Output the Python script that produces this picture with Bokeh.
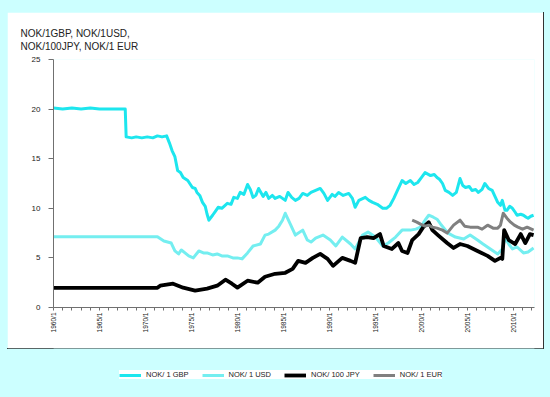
from bokeh.plotting import figure
from bokeh.models import Range1d, FixedTicker, Title, Legend, LegendItem
from bokeh.layouts import column
from bokeh.embed import file_html
from bokeh.resources import INLINE
import math

# ---------------- data ----------------
gbp_year = [1960.0, 1961.0, 1962.0, 1963.0, 1964.0, 1965.0, 1966.0, 1967.0, 1967.8,
            1967.9, 1968.5, 1969.0, 1969.6, 1970.2, 1970.8, 1971.3, 1971.8, 1972.3,
            1972.6, 1972.9, 1973.2, 1973.5, 1973.8, 1974.1, 1974.6, 1975.1, 1975.4,
            1975.6, 1975.9, 1976.2, 1976.5, 1976.7, 1976.9, 1977.3, 1977.6, 1977.9,
            1978.3, 1978.9, 1979.3, 1979.6, 1980.0, 1980.3, 1980.7, 1981.1, 1981.4,
            1981.7, 1982.0, 1982.3, 1982.8, 1983.1, 1983.4, 1983.8, 1984.1, 1984.6,
            1985.2, 1985.5, 1985.9, 1986.3, 1986.7, 1987.1, 1987.6, 1988.0, 1988.5,
            1989.0, 1989.4, 1989.8, 1990.3, 1990.6, 1991.0, 1991.5, 1992.1, 1992.5,
            1992.8, 1993.2, 1993.9, 1994.3, 1994.7, 1995.2, 1995.8, 1996.2, 1996.6,
            1997.0, 1997.4, 1997.9, 1998.3, 1998.8, 1999.2, 1999.6, 2000.0, 2000.4,
            2001.0, 2001.4, 2001.7, 2002.0, 2002.3, 2002.6, 2003.0, 2003.4, 2003.8,
            2004.2, 2004.5, 2004.8, 2005.2, 2005.5, 2005.9, 2006.2, 2006.6, 2006.9,
            2007.3, 2007.7, 2008.0, 2008.3, 2008.6, 2008.8, 2009.1, 2009.3, 2009.6,
            2009.9, 2010.2, 2010.4, 2010.8, 2011.1, 2011.4, 2011.6, 2011.9, 2012.2]
gbp_value = [20.1, 20.0, 20.1, 20.0, 20.1, 20.0, 20.0, 20.0, 20.0,
             17.2, 17.1, 17.2, 17.1, 17.2, 17.1, 17.3, 17.2, 17.3,
             16.6, 15.8, 15.2, 13.8, 13.6, 13.1, 12.8, 12.1, 12.0,
             11.6, 11.3, 10.6, 10.2, 9.4, 8.8, 9.3, 9.7, 10.1,
             10.0, 10.5, 10.4, 11.1, 11.0, 11.6, 11.4, 12.4, 11.9,
             11.1, 11.3, 12.0, 11.2, 11.6, 11.0, 11.3, 11.0, 11.2,
             10.8, 11.6, 11.1, 10.8, 11.0, 11.5, 11.3, 11.6, 11.8,
             12.0, 11.5, 10.8, 11.4, 11.2, 11.6, 11.3, 11.5, 11.0,
             10.1, 10.8, 11.1, 10.8, 10.6, 10.4, 10.0, 10.0, 10.3,
             11.0, 11.8, 12.8, 12.5, 12.8, 12.4, 12.6, 13.1, 13.6,
             13.3, 13.4, 13.1, 12.9, 12.5, 11.8, 11.6, 11.3, 11.6,
             13.0, 12.3, 12.1, 12.2, 11.8, 11.9, 11.6, 11.9, 12.5,
             12.0, 11.8, 11.2, 10.6, 10.3, 10.8, 9.8, 9.8, 10.2,
             10.0, 9.6, 9.3, 9.4, 9.3, 9.1, 9.0, 9.2, 9.3]

usd_year = [1960.0, 1962.0, 1964.0, 1966.0, 1968.0, 1970.0, 1971.3, 1972.0, 1972.8,
            1973.2, 1973.6, 1973.9, 1974.3, 1974.7, 1975.2, 1975.8, 1976.3, 1976.7,
            1977.3, 1977.8, 1978.3, 1978.9, 1979.5, 1980.0, 1980.5, 1981.1, 1981.7,
            1982.5, 1983.0, 1983.4, 1984.1, 1984.5, 1984.9, 1985.2, 1985.8, 1986.3,
            1987.1, 1987.6, 1988.0, 1988.5, 1989.3, 1990.1, 1990.7, 1991.4, 1992.3,
            1992.8, 1993.6, 1994.2, 1995.0, 1995.8, 1996.4, 1997.2, 1997.9, 1998.8,
            1999.4, 1999.9, 2000.4, 2000.8, 2001.3, 2001.7, 2002.1, 2002.9, 2003.7,
            2004.6, 2005.3, 2006.1, 2006.7, 2007.5, 2008.3, 2008.8, 2009.1, 2009.5,
            2009.9, 2010.4, 2011.1, 2011.6, 2012.2]
usd_value = [7.14, 7.14, 7.14, 7.14, 7.14, 7.14, 7.14, 6.7, 6.5,
             5.7, 5.4, 5.8, 5.5, 5.2, 5.0, 5.7, 5.5, 5.5,
             5.3, 5.4, 5.2, 5.2, 5.0, 5.0, 4.9, 5.5, 6.2,
             6.4, 7.3, 7.4, 7.8, 8.2, 8.8, 9.5, 8.3, 7.3,
             7.8, 6.8, 6.6, 7.0, 7.3, 6.8, 6.2, 7.1, 6.4,
             5.9, 7.3, 7.6, 7.1, 6.2, 6.5, 7.1, 7.8, 7.8,
             7.9, 8.1, 8.8, 9.3, 9.1, 8.9, 8.4, 7.5, 7.1,
             6.9, 7.3, 6.8, 6.4, 5.9, 5.4, 5.9, 7.0, 6.4,
             5.9, 6.1, 5.5, 5.6, 6.0]

jpy_year = [1960.0, 1962.0, 1964.0, 1966.0, 1968.0, 1970.0, 1971.3, 1971.6, 1973.0,
            1974.1, 1975.4, 1976.7, 1977.8, 1978.7, 1979.4, 1980.0, 1981.1, 1982.2,
            1983.0, 1984.1, 1985.2, 1986.0, 1986.6, 1987.4, 1988.2, 1989.0, 1989.8,
            1990.4, 1991.4, 1992.3, 1992.8, 1993.4, 1994.1, 1994.8, 1995.5, 1995.9,
            1996.8, 1997.5, 1997.9, 1998.5, 1999.0, 1999.7, 2000.2, 2000.8, 2001.2,
            2001.8, 2002.8, 2003.5, 2004.2, 2005.0, 2006.1, 2007.2, 2008.0, 2008.6,
            2008.8, 2009.0, 2009.5, 2010.2, 2010.8, 2011.3, 2011.8, 2012.2]
jpy_value = [1.98, 1.98, 1.98, 1.98, 1.98, 1.98, 1.98, 2.2, 2.4,
             2.0, 1.7, 1.9, 2.2, 2.8, 2.4, 2.0, 2.7, 2.5,
             3.1, 3.4, 3.5, 3.9, 4.7, 4.5, 5.0, 5.4, 4.9,
             4.2, 5.0, 4.7, 4.5, 7.0, 7.1, 7.0, 7.4, 6.2,
             5.9, 6.5, 5.7, 5.5, 6.8, 7.4, 8.1, 8.6, 7.8,
             7.3, 6.5, 6.0, 6.4, 6.2, 5.7, 5.2, 4.7, 5.0,
             4.9, 7.8, 6.8, 6.4, 7.4, 6.5, 7.4, 7.3]

eur_year = [1999.0, 1999.5, 1999.9, 2000.4, 2000.8, 2001.2, 2001.7, 2002.3, 2002.8,
            2003.5, 2004.2, 2004.7, 2005.3, 2006.1, 2006.6, 2007.2, 2007.8, 2008.3,
            2008.6, 2008.9, 2009.3, 2009.7, 2010.1, 2010.5, 2011.0, 2011.5, 2012.2]
eur_value = [8.8, 8.6, 8.4, 8.2, 8.3, 8.1, 8.0, 7.8, 7.5,
             8.3, 8.8, 8.2, 8.1, 8.1, 7.9, 8.3, 8.0, 8.0,
             8.3, 9.5, 9.0, 8.6, 8.3, 8.1, 7.9, 8.1, 7.8]

series_names = ["NOK/ 1 GBP", "NOK/ 1 USD", "NOK/ 100 JPY", "NOK/ 1 EUR"]
series_colors = ["#1de6ee", "#74eef0", "#000000", "#808080"]
title_lines = ["NOK/1GBP, NOK/1USD,", "NOK/100JPY, NOK/1 EUR"]
x_label_years = list(range(1960, 2013))
y_ticks = [0, 5, 10, 15, 20, 25]

BG = "#ccffff"
FONT = "Liberation Sans"

all_series = [(gbp_year, gbp_value), (usd_year, usd_value),
              (jpy_year, jpy_value), (eur_year, eur_value)]

# ---------------- main panel ----------------
p = figure(width=536, height=336, output_backend="svg", toolbar_location=None,
           x_range=Range1d(1960, 2012.3), y_range=Range1d(0, 25),
           min_border_left=46, min_border_right=9, min_border_top=47,
           min_border_bottom=41)
p.background_fill_color = "white"
p.border_fill_color = "white"
p.outline_line_color = None
p.grid.visible = False
p.styles = {"outline": "1px solid #333333"}

for i, (xs, ys) in enumerate(all_series):
    p.line(xs, ys, line_color=series_colors[i],
           line_width=3.8 if i == 2 else 3.0, line_join="round")

# y axis
p.yaxis.ticker = FixedTicker(ticks=y_ticks)
p.yaxis.minor_tick_line_color = None
p.yaxis.major_tick_in = 0
p.yaxis.major_tick_out = 5
p.yaxis.axis_line_color = "#707070"
p.yaxis.major_tick_line_color = "#707070"
p.yaxis.major_label_text_font = FONT
p.yaxis.major_label_text_font_size = "8px"
p.yaxis.major_label_text_color = "#222222"
p.yaxis.major_label_standoff = 8

# x axis
p.xaxis.ticker = FixedTicker(ticks=x_label_years)
p.xaxis.minor_tick_line_color = None
p.xaxis.major_tick_in = 0
p.xaxis.major_tick_out = 3
p.xaxis.axis_line_color = "#707070"
p.xaxis.major_tick_line_color = "#707070"
p.xaxis.major_label_overrides = {y: (f"{y}/1" if y % 5 == 0 else "") for y in x_label_years}
p.xaxis.major_label_orientation = math.pi / 2
p.xaxis.major_label_text_font = FONT
p.xaxis.major_label_text_font_size = "6.5px"
p.xaxis.major_label_text_color = "#222222"
p.xaxis.major_label_standoff = 2

# two-line title
p.title = Title(text="\n".join(title_lines), align="left", text_font=FONT,
                text_font_size="10px", text_font_style="normal",
                text_color="#222222", offset=-33, standoff=14, text_line_height=1.2)
p.title_location = "above"

# ---------------- legend strip ----------------
p2 = figure(width=536, height=49, output_backend="svg", toolbar_location=None,
            x_range=Range1d(-2, -1), y_range=Range1d(-2, -1),
            x_axis_location=None, y_axis_location=None,
            min_border_left=0, min_border_right=0, min_border_top=0, min_border_bottom=0)
p2.grid.visible = False
p2.background_fill_color = BG
p2.border_fill_color = BG
p2.outline_line_color = None

items = []
for i, (name, (xs, ys)) in enumerate(zip(series_names, all_series)):
    r = p2.line(xs, ys, line_color=series_colors[i], line_width=3.8 if i == 2 else 3.0)
    items.append(LegendItem(label=name, renderers=[r]))
leg = Legend(items=items, orientation="horizontal", location=(66, 18),
             background_fill_color="white", background_fill_alpha=1.0,
             border_line_color=None, label_text_font=FONT, label_text_font_size="7.5px",
             label_text_color="#222222", glyph_width=22, glyph_height=8,
             label_standoff=5, spacing=13, padding=8, margin=0,
             label_height=8)
p2.add_layout(leg, "center")

layout = column(p, p2, spacing=0)

html = file_html(layout, INLINE)
html = html.replace("</head>",
                    "<style>html,body{background:%s !important;}"
                    "body{margin:12px 0 0 7px !important;padding:0 !important;"
                    "height:auto !important;}</style></head>" % BG, 1)
open("out.html", "w").write(html)
